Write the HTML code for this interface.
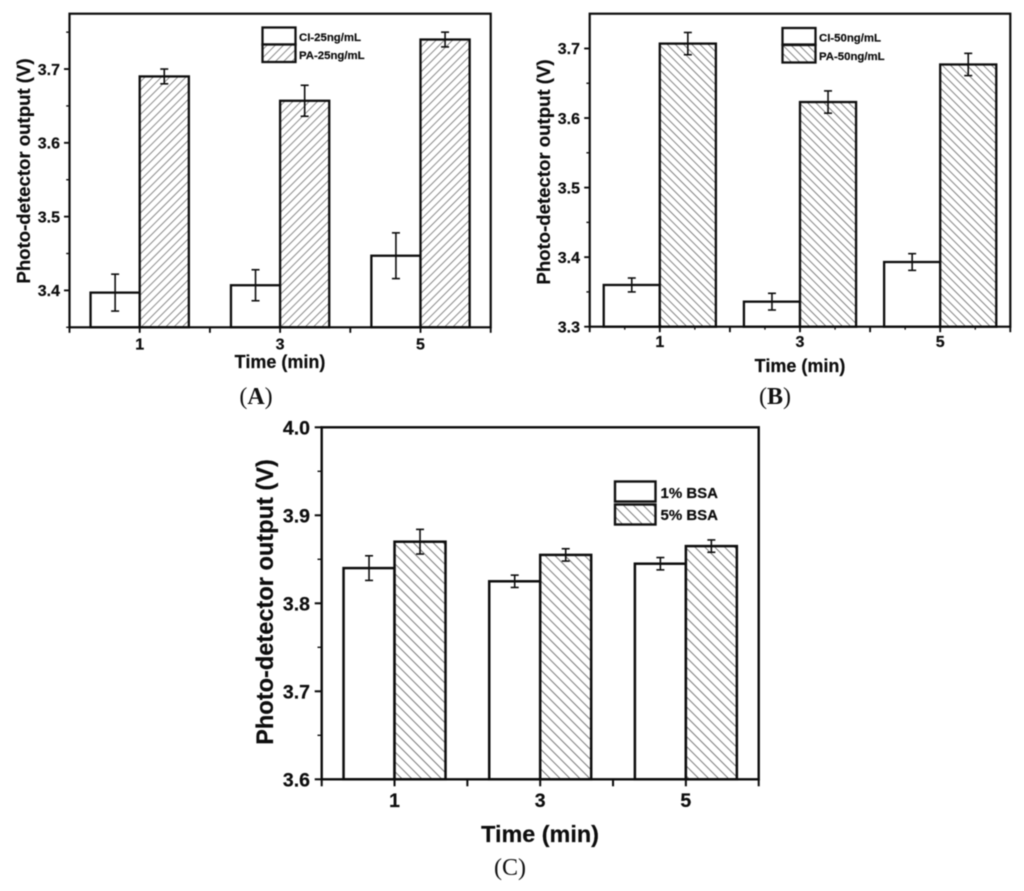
<!DOCTYPE html>
<html lang="en">
<head>
<meta charset="utf-8">
<title>Photo-detector output charts</title>
<style>
html,body{margin:0;padding:0;background:#fff;}
svg{display:block;filter:blur(0.5px);}
text{font-family:"Liberation Sans",sans-serif;font-weight:bold;fill:#0d0d0d;stroke:#0d0d0d;stroke-width:0.2px;}
.cap{font-family:"Liberation Serif",serif;font-weight:normal;fill:#111;stroke:none;font-size:24px;text-anchor:middle;}
.cap .b{font-weight:bold;}
</style>
</head>
<body>
<svg id="figure" xmlns="http://www.w3.org/2000/svg" width="1024" height="891" viewBox="0 0 1024 891">
  <defs>
    <pattern id="hatch-up" patternUnits="userSpaceOnUse" width="5.8" height="5.8" patternTransform="rotate(-45)">
      <rect width="5.8" height="5.8" fill="#fff"/>
      <line x1="0" y1="0" x2="5.8" y2="0" stroke="#707070" stroke-width="1.6"/>
    </pattern>
    <pattern id="hatch-down" patternUnits="userSpaceOnUse" width="5.8" height="5.8" patternTransform="rotate(45)">
      <rect width="5.8" height="5.8" fill="#fff"/>
      <line x1="0" y1="0" x2="5.8" y2="0" stroke="#666" stroke-width="1.6"/>
    </pattern>
    <pattern id="hatch-wide" patternUnits="userSpaceOnUse" width="7" height="7" patternTransform="rotate(45)">
      <rect width="7" height="7" fill="#fff"/>
      <line x1="0" y1="0" x2="7" y2="0" stroke="#5a5a5a" stroke-width="1.6"/>
    </pattern>
  </defs>

  <g id="panel-a"></g>
  <g id="panel-b"></g>
  <g id="panel-c"></g>

  <!-- Panel A text and legend -->
  <text transform="translate(30,171) rotate(-90)" text-anchor="middle" font-size="18.6">Photo-detector output (V)</text>
  <text x="280" y="368" text-anchor="middle" font-size="18">Time (min)</text>
  <g>
    <rect x="262.5" y="27.5" width="33" height="17" fill="#fff" stroke="#111" stroke-width="2.3"/>
    <rect x="262.5" y="44.5" width="33" height="17.5" fill="url(#hatch-up)" stroke="#111" stroke-width="2.3"/>
    <text x="299" y="41" font-size="11.4">CI-25ng/mL</text>
    <text x="299" y="59" font-size="11.4">PA-25ng/mL</text>
  </g>
  <text class="cap" x="256" y="404">(<tspan class="b">A</tspan>)</text>

  <!-- Panel B text and legend -->
  <text transform="translate(550,172) rotate(-90)" text-anchor="middle" font-size="18.6">Photo-detector output (V)</text>
  <text x="800" y="372" text-anchor="middle" font-size="18">Time (min)</text>
  <g>
    <rect x="782.5" y="28" width="33" height="16.5" fill="#fff" stroke="#111" stroke-width="2.3"/>
    <rect x="782.5" y="45" width="33" height="17.5" fill="url(#hatch-down)" stroke="#111" stroke-width="2.3"/>
    <text x="819" y="41.5" font-size="11.4">CI-50ng/mL</text>
    <text x="819" y="60" font-size="11.4">PA-50ng/mL</text>
  </g>
  <text class="cap" x="775" y="404">(<tspan class="b">B</tspan>)</text>

  <!-- Panel C text and legend -->
  <text transform="translate(273,602) rotate(-90)" text-anchor="middle" font-size="23.6">Photo-detector output (V)</text>
  <text x="540" y="842" text-anchor="middle" font-size="23.4">Time (min)</text>
  <g>
    <rect x="615" y="481.5" width="40.5" height="20" fill="#fff" stroke="#111" stroke-width="2.4"/>
    <rect x="615" y="504.5" width="40.5" height="20" fill="url(#hatch-wide)" stroke="#111" stroke-width="2.4"/>
    <text x="660.5" y="498" font-size="15">1% BSA</text>
    <text x="660.5" y="520" font-size="15">5% BSA</text>
  </g>
  <text class="cap" x="510" y="875">(C)</text>
</svg>

<script>
// Shared x categories
var categories = [1, 3, 5];
var xTickValues = [0, 1, 2, 3, 4, 5, 6];
var xLabelValues = ['1', '3', '5'];

// Panel A values
var ciA = [3.397, 3.407, 3.447];
var ciAErr = [0.025, 0.021, 0.031];
var paA = [3.690, 3.657, 3.740];
var paAErr = [0.010, 0.021, 0.010];
var yTicksA = ['3.4', '3.5', '3.6', '3.7'];
var yMinorA = [3.35, 3.45, 3.55, 3.65, 3.75];

// Panel B values
var ciB = [3.360, 3.336, 3.393];
var ciBErr = [0.010, 0.012, 0.012];
var paB = [3.707, 3.623, 3.677];
var paBErr = [0.016, 0.016, 0.016];
var yTicksB = ['3.3', '3.4', '3.5', '3.6', '3.7'];
var yMinorB = [3.35, 3.45, 3.55, 3.65];

// Panel C values
var bsa1 = [3.840, 3.825, 3.845];
var bsa1Err = [0.014, 0.007, 0.007];
var bsa5 = [3.870, 3.855, 3.865];
var bsa5Err = [0.014, 0.007, 0.007];
var yTicksC = ['3.6', '3.7', '3.8', '3.9', '4.0'];
var yMinorC = [3.65, 3.75, 3.85, 3.95];

var SVGNS = 'http://www.w3.org/2000/svg';
var INK = '#0d0d0d';

function make(tag, parent, props) {
  var el = document.createElementNS(SVGNS, tag);
  for (var k in props) { el.setAttribute(k, props[k]); }
  parent.appendChild(el);
  return el;
}

function drawPanel(p) {
  var g = document.getElementById(p.id);
  var sx = function (v) { return p.left + (v - p.xMin) / (p.xMax - p.xMin) * (p.right - p.left); };
  var sy = function (v) { return p.bottom - (v - p.yMin) / (p.yMax - p.yMin) * (p.bottom - p.top); };
  var half = p.barWidth;

  // Bars and error bars
  p.series.forEach(function (s, si) {
    categories.forEach(function (c, i) {
      var x0 = si === 0 ? sx(c) - half * (p.right - p.left) / (p.xMax - p.xMin) : sx(c);
      var w = half * (p.right - p.left) / (p.xMax - p.xMin);
      var y = sy(s.values[i]);
      var bar = make('rect', g, { x: x0, y: y, width: w, height: p.bottom - y, fill: s.fill, stroke: INK, 'stroke-width': p.barStroke });
      
      

      var cx = x0 + w / 2;
      var yHi = sy(s.values[i] + s.errors[i]);
      var yLo = sy(s.values[i] - s.errors[i]);
      var stem = make('line', g, { x1: cx, x2: cx, y1: yHi, y2: yLo, stroke: INK, 'stroke-width': 1.6 });
      
      
      [yHi, yLo].forEach(function (yy) {
        var capLine = make('line', g, { x1: cx - 4, x2: cx + 4, y1: yy, y2: yy, stroke: INK, 'stroke-width': 1.6 });
        
        
      });
    });
  });

  // Frame
  var frame = make('rect', g, { x: p.left, y: p.top, width: p.right - p.left, height: p.bottom - p.top, fill: 'none', stroke: INK, 'stroke-width': p.frameStroke });
  
  

  // X ticks
  xTickValues.forEach(function (v) {
    var t = make('line', g, { x1: sx(v), x2: sx(v), y1: p.bottom, y2: p.bottom + p.tickLen, stroke: INK, 'stroke-width': p.frameStroke * 0.85 });
    
    
  });
  if (p.xMinor) {
    xTickValues.slice(0, -1).forEach(function (v) {
      var m = make('line', g, { x1: sx(v + 0.5), x2: sx(v + 0.5), y1: p.bottom, y2: p.bottom + p.tickLen * 0.55, stroke: INK, 'stroke-width': 1.3 });
      
      
    });
  }
  xLabelValues.forEach(function (lab) {
    var xl = make('text', g, { x: sx(+lab), y: p.xLabelY, 'text-anchor': 'middle', 'font-size': p.tickFont });
    xl.textContent = lab;
    
    
  });

  // Y ticks
  p.yTicks.forEach(function (lab) {
    var y = sy(+lab);
    var t = make('line', g, { x1: p.left - p.tickLen, x2: p.left, y1: y, y2: y, stroke: INK, 'stroke-width': p.frameStroke * 0.85 });
    
    
    var yl = make('text', g, { x: p.yLabelX, y: y + p.tickFont * 0.36, 'text-anchor': 'end', 'font-size': p.tickFont });
    yl.textContent = lab;
    
    
  });
  p.yMinor.forEach(function (v) {
    var y = sy(v);
    var m = make('line', g, { x1: p.left - p.tickLen * 0.6, x2: p.left, y1: y, y2: y, stroke: INK, 'stroke-width': 1.4 });
    
    
  });
}

drawPanel({
  id: 'panel-a', left: 69.5, right: 490.7, top: 13.7, bottom: 327.3,
  xMin: 0, xMax: 6, yMin: 3.35, yMax: 3.775, barWidth: 0.7,
  barStroke: 2.3, frameStroke: 2.2, tickLen: 5.5, tickFont: 16, xMinor: false,
  yLabelX: 60, xLabelY: 349.5, yTicks: yTicksA, yMinor: yMinorA,
  series: [
    { values: ciA, errors: ciAErr, fill: '#fff' },
    { values: paA, errors: paAErr, fill: 'url(#hatch-up)' }
  ]
});

drawPanel({
  id: 'panel-b', left: 589.7, right: 1010.3, top: 13.7, bottom: 326.7,
  xMin: 0, xMax: 6, yMin: 3.3, yMax: 3.75, barWidth: 0.8,
  barStroke: 2.3, frameStroke: 2.2, tickLen: 5.5, tickFont: 16, xMinor: true,
  yLabelX: 580, xLabelY: 347, yTicks: yTicksB, yMinor: yMinorB,
  series: [
    { values: ciB, errors: ciBErr, fill: '#fff' },
    { values: paB, errors: paBErr, fill: 'url(#hatch-down)' }
  ]
});

drawPanel({
  id: 'panel-c', left: 321.7, right: 758.7, top: 427.3, bottom: 779.3,
  xMin: 0, xMax: 6, yMin: 3.6, yMax: 4.0, barWidth: 0.7,
  barStroke: 2.5, frameStroke: 2.4, tickLen: 7, tickFont: 19.5, xMinor: false,
  yLabelX: 310, xLabelY: 807, yTicks: yTicksC, yMinor: yMinorC,
  series: [
    { values: bsa1, errors: bsa1Err, fill: '#fff' },
    { values: bsa5, errors: bsa5Err, fill: 'url(#hatch-wide)' }
  ]
});
</script>
</body>
</html>
